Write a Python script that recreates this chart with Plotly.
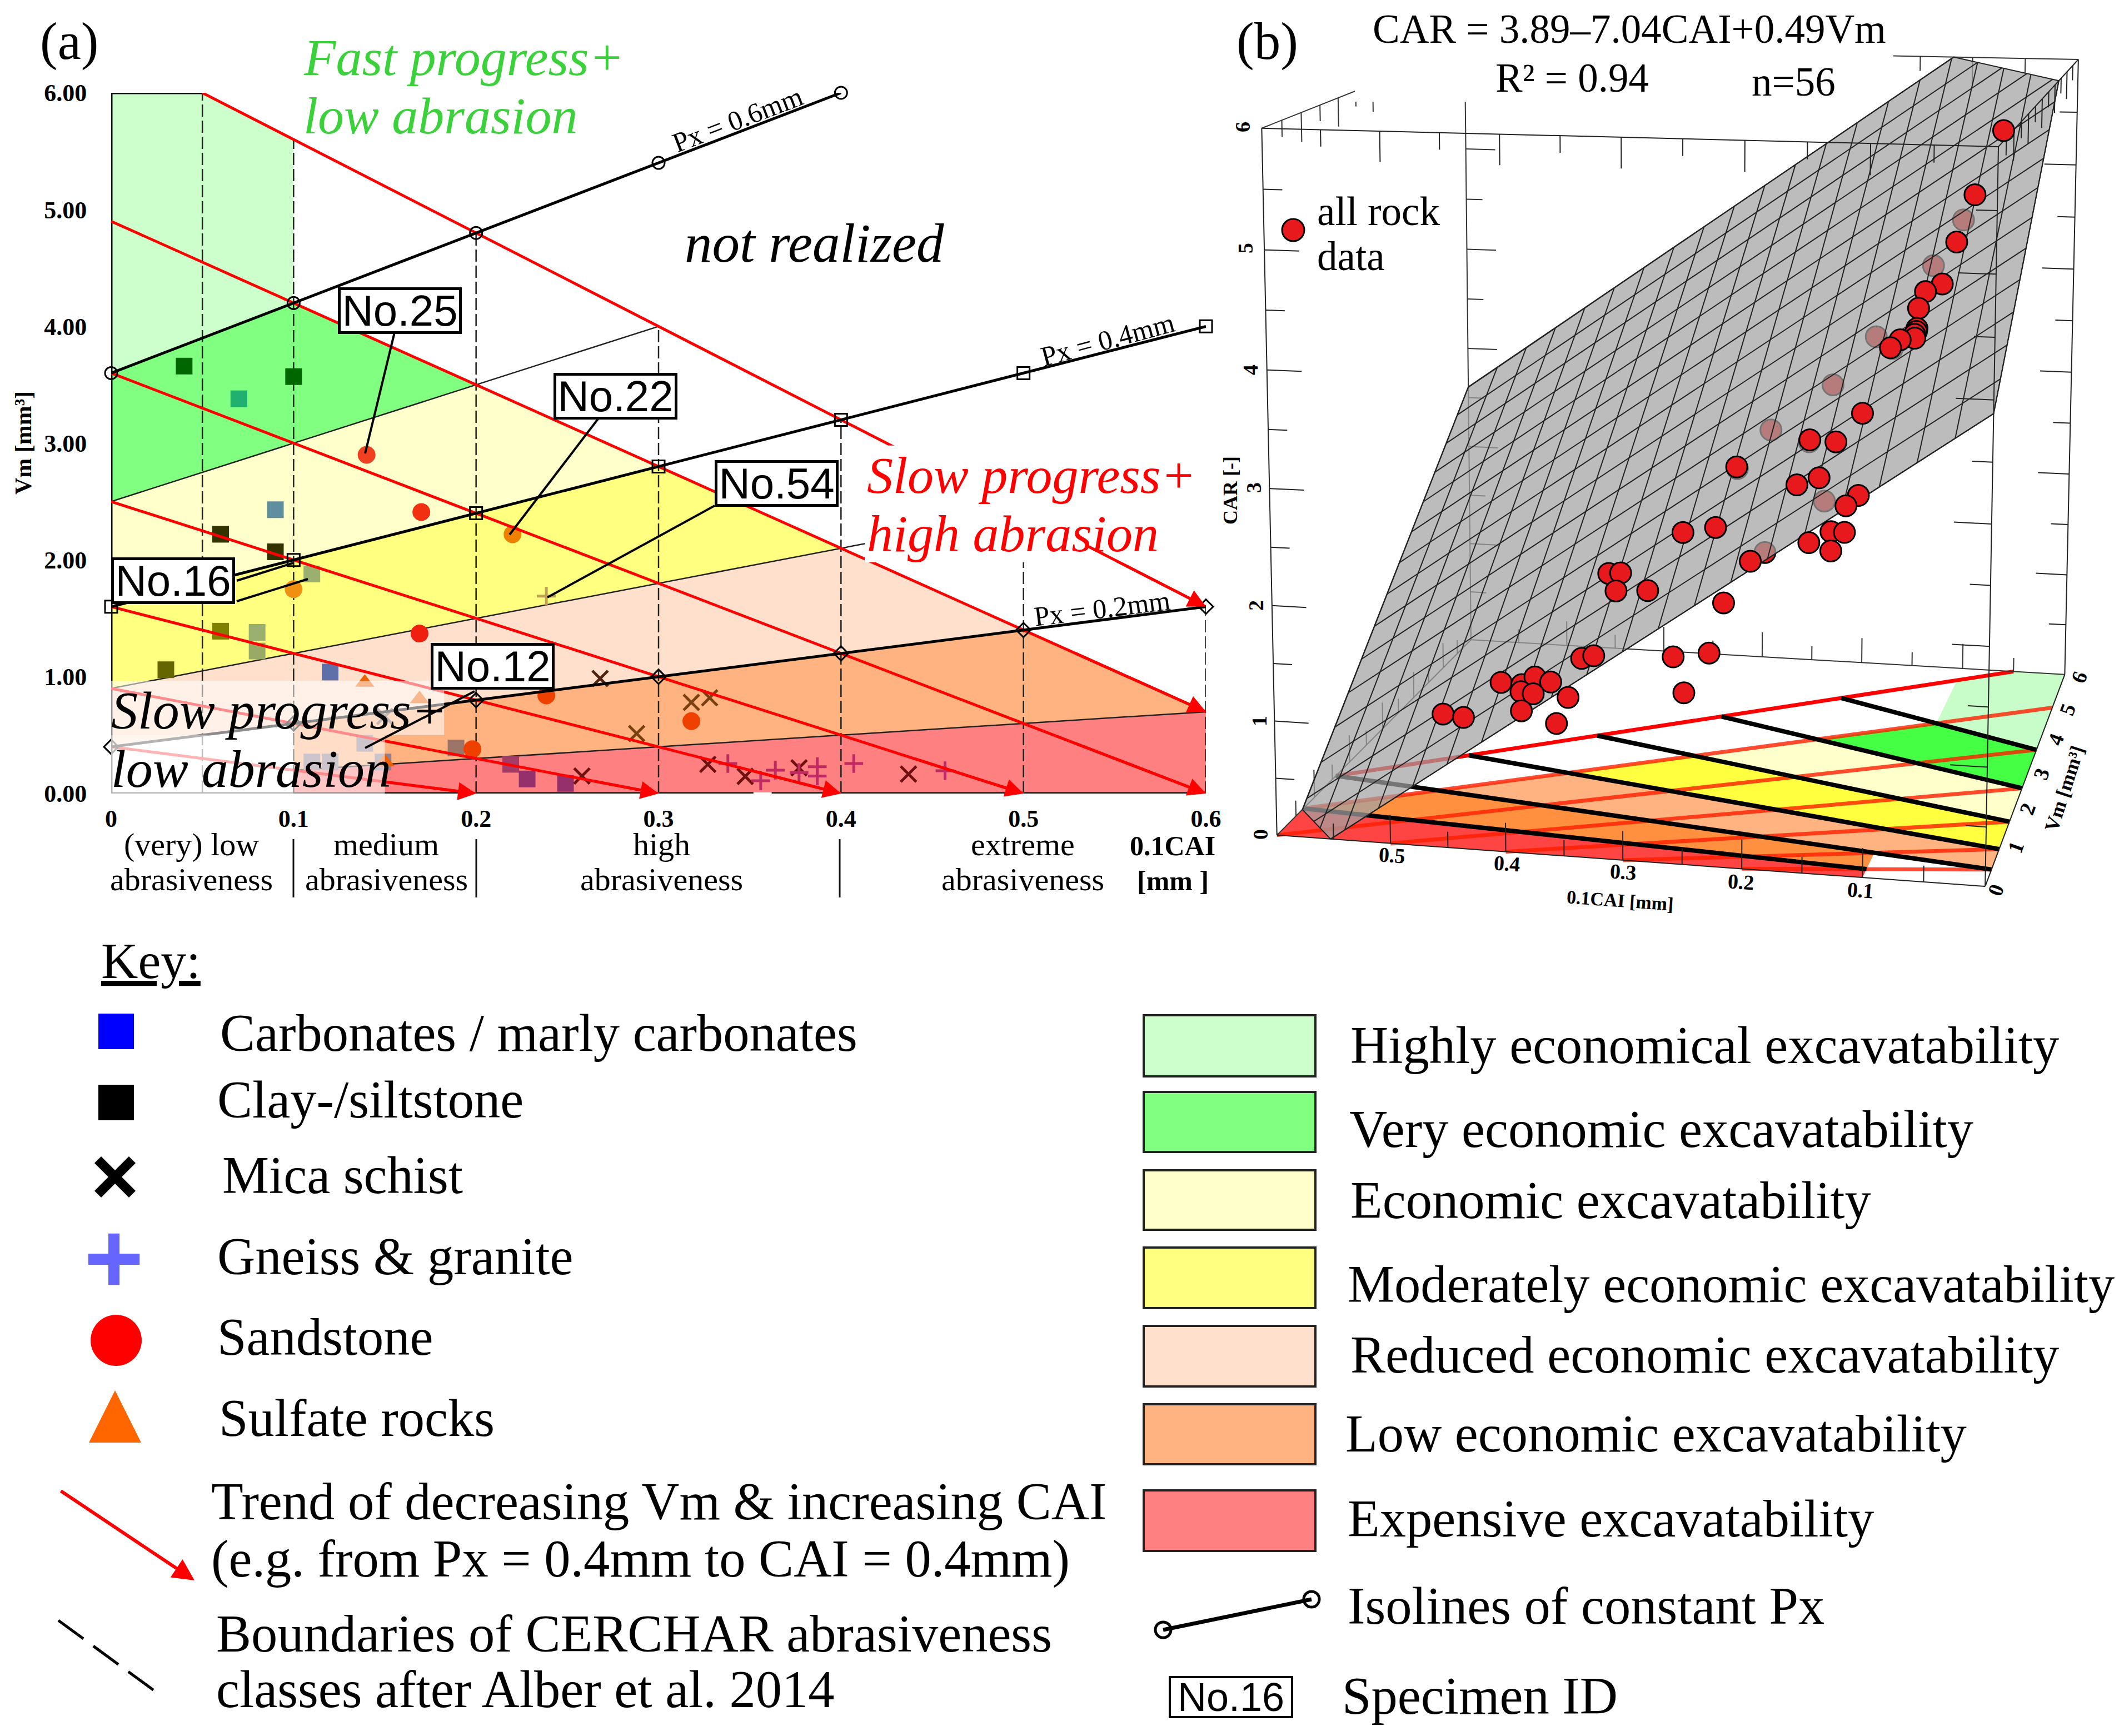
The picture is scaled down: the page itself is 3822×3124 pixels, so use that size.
import numpy as np
import plotly.graph_objects as go

W, H = 3822, 3124
SERIF = "Liberation Serif"
SANS = "Liberation Sans"

# ---------- data ----------
zone_names = ["Highly economical excavatability", "Very economic excavatability", "Economic excavatability",
              "Moderately economic excavatability", "Reduced economic excavatability",
              "Low economic excavatability", "Expensive excavatability"]
zone_cai = [[0, 0, .05, .1, .1], [0, 0, .1, .2], [0, 0, .2, .3], [0, 0, .3, .4], [0, 0, .4, .5],
            [.1, .1, .5, .6], [.1, .1, .6, .6]]
zone_vm = [[3.6, 6, 6, 5.6, 4.2], [2.5, 3.6, 4.2, 3.5], [1.6, 2.5, 3.5, 2.8], [.9, 1.6, 2.8, 2.1], [.4, .9, 2.1, 1.4],
           [.2, .6, 1.4, .7], [0, .2, .7, 0]]
zone_fill = ["#ccffcc", "#80ff80", "#ffffcc", "#ffff80", "#ffe0cc", "#ffb380", "#ff8080"]
floor_fill = ["#c8fcc8", "#44ff44", "#ffffcc", "#ffff40", "#ffb380", "#ff9040", "#ff4444"]

trend_cai0 = [.05, 0, 0, 0, 0, 0, 0]
trend_vm0 = [6, 4.9, 3.6, 2.5, 1.6, .9, .4]
trend_cai1 = [.6, .6, .6, .5, .4, .3, .2]
trend_vm1 = [1.6, .7, 0, 0, 0, 0, 0]

boundary_cai = [.05, .1, .2, .3, .4, .5, .6]
boundary_top = [6, 5.6, 4.8, 4.0, 3.2, 2.4, 1.6]

px6_cai = [0, .1, .2, .3, .4]
px6_vm = [3.6, 4.2, 4.8, 5.4, 6.0]
px4_cai = [0, .1, .2, .3, .4, .5, .6]
px4_vm = [1.6, 2.0, 2.4, 2.8, 3.2, 3.6, 4.0]
px2_cai = [0, .1, .2, .3, .4, .5, .6]
px2_vm = [.4, .6, .8, 1.0, 1.2, 1.4, 1.6]
thin_cai = [[0, .3], [0, .46], [.1, .6]]
thin_vm = [[2.5, 4.0], [.9, 2.28], [.2, .7]]

clay_cai = [.04, .1, .06, .09, .06, .03]
clay_vm = [3.66, 3.57, 2.22, 2.07, 1.39, 1.06]
clay_col = ["#006600", "#006600", "#333300", "#333300", "#808000", "#666600"]
carb_cai = [.07, .09, .11, .08, .08, .12, .139, .11, .12, .149, .189, .219, .228, .249]
carb_vm = [3.38, 2.43, 1.88, 1.38, 1.22, 1.04, .43, .27, .27, .27, .39, .25, .125, .087]
carb_col = ["#20b070", "#5f8f9f", "#99b070", "#99b070", "#99aa66", "#5f70a8", "#8f7f8f", "#8f7f8f", "#8f7f8f", "#8f7f8f",
            "#9c7468", "#a53c66", "#96306c", "#96306c"]
sand_cai = [.14, .17, .22, .1, .169, .2385, .318, .198]
sand_vm = [2.9, 2.41, 2.22, 1.75, 1.37, .84, .62, .38]
sand_col = ["#f04020", "#f03010", "#f08000", "#f09010", "#f02010", "#f04000", "#f04000", "#f04000"]
sulf_cai = [.139, .169, .15]
sulf_vm = [.95, .81, .27]
mica_cai = [.268, .288, .318, .328, .327, .3475, .377, .437, .258, .15]
mica_vm = [.985, .514, .78, .82, .25, .147, .22, .167, .15, .66]
mica_col = ["#502510", "#7a4010", "#7a4010", "#7a4010", "#701010", "#701010", "#701010", "#701010", "#701010", "#806060"]
gneiss_cai = [.2385, .338, .356, .364, .377, .387, .387, .407, .457]
gneiss_vm = [1.69, .257, .11, .2, .18, .23, .15, .257, .195]
gneiss_col = ["#c0a050"] + ["#c02a60"] * 8

plane_coef = [3.89, -7.04, 0.49]
grid_cai = [round(.03 * i, 2) for i in range(21)]
grid_vm = [round(.4 * i, 1) for i in range(16)]

front_cai = [.046, .061, .069, .074, .089, .092, .089, .089, .090, .089, .103, .111, .123, .169, .142, .237, .150, .170, .110, .120, .132, .121, .150, .132,
             .274, .241, .198, .341, .328, .327, .293, .220, .341, .329, .262, .232, .253, .421, .397, .385, .366, .395, .381, .351, .391, .361, .475, .450]
front_vm = [4.09, 3.34, 2.79, 2.29, 2.34, 2.15, 1.87, 1.84, 1.81, 1.75, 1.86, 1.85, 1.16, 1.27, .98, 1.56, .65, .74, .20, .20, .20, .20, .20, .20,
            1.12, .88, .20, 1.23, 1.12, .91, .62, .20, .27, .20, .20, .20, .20, .66, .44, .42, .21, .34, .21, .20, .20, .20, .75, .51]
front_car = [5.57, 5.10, 4.77, 4.49, 4.41, 4.30, 4.18, 4.16, 4.14, 4.12, 4.08, 4.01, 3.59, 3.32, 3.38, 2.99, 3.15, 3.06, 3.13, 3.04, 2.82, 2.82, 2.72, 2.66,
             2.51, 2.63, 2.54, 2.09, 2.13, 2.03, 2.13, 2.18, 1.62, 1.67, 1.70, 1.75, 1.40, 1.25, 1.31, 1.39, 1.42, 1.28, 1.31, 1.30, 1.16, 1.07, .91, .97]
behind_cai = [.067, .087, .128, .109, .160, .212, .169, .236, .139, .186]
behind_vm = [3.06, 2.66, 2.15, 1.82, 1.86, 1.79, 1.24, 1.54, .28, .20]
behind_car = [4.92, 4.58, 4.04, 4.01, 3.67, 3.27, 3.31, 2.98, 3.05, 2.62]

# ---------- camera from box corners ----------
box_corners = [((0,0,0),(1330,1483)),((.6,0,0),(118,1395)),((0,6,0),(1467,1125)),((.6,6,0),(440,1070)),
               ((0,0,6),(1350,245)),((.6,0,6),(82,213)),((0,6,6),(1490,100)),((.6,6,6),(440,80))]
A = []
for (c, v, z), (sx, sy) in box_corners:
    u, w = (2180 + sx * 1642 / 1568) / 1000, (sy * 1680 / 1560) / 1000
    X = [10 * c, v, z, 1]
    A.append(X + [0, 0, 0, 0] + [-u * t for t in X])
    A.append([0, 0, 0, 0] + X + [-w * t for t in X])
P = np.linalg.svd(np.array(A))[2][-1].reshape(3, 4)

def proj(c, v, z):
    X = np.array([10 * c, v, z, 1.0])
    q = P @ X
    return 1000 * q[0] / q[2], 1000 * q[1] / q[2]

# ---------- figure ----------
fig = go.Figure()
TA = dict(xaxis="x", yaxis="y", cliponaxis=False, hoverinfo="skip", showlegend=False)
TB = dict(xaxis="x2", yaxis="y2", cliponaxis=False, hoverinfo="skip", showlegend=False)

# panel a
for cs, vs, col in zip(zone_cai, zone_vm, zone_fill):
    fig.add_trace(go.Scatter(x=cs, y=vs, fill="toself", fillcolor=col, mode="none", **TA))
for c, t in zip(boundary_cai, boundary_top):
    fig.add_trace(go.Scatter(x=[c, c], y=[0, t], mode="lines", line=dict(color="#222", width=2.5, dash="22px,7px"), **TA))
for cs, vs in zip(thin_cai, thin_vm):
    fig.add_trace(go.Scatter(x=cs, y=vs, mode="lines", line=dict(color="#222", width=2.5), **TA))
fig.add_trace(go.Scatter(x=[0, 0, None, 0, .05, None, 0, .6], y=[0, 6, None, 6, 6, None, 0, 0], mode="lines", line=dict(color="#111", width=5), **TA))
fig.add_trace(go.Scatter(x=carb_cai, y=carb_vm, mode="markers", marker=dict(symbol="square", size=30, color=carb_col), **TA))
fig.add_trace(go.Scatter(x=clay_cai, y=clay_vm, mode="markers", marker=dict(symbol="square", size=30, color=clay_col), **TA))
fig.add_trace(go.Scatter(x=sand_cai, y=sand_vm, mode="markers", marker=dict(symbol="circle", size=32, color=sand_col), **TA))
fig.add_trace(go.Scatter(x=sulf_cai, y=sulf_vm, mode="markers", marker=dict(symbol="triangle-up", size=30, color="#f06000"), **TA))
fig.add_trace(go.Scatter(x=mica_cai, y=mica_vm, mode="markers", marker=dict(symbol="x-thin", size=28, line=dict(width=5, color=mica_col)), **TA))
fig.add_trace(go.Scatter(x=gneiss_cai, y=gneiss_vm, mode="markers", marker=dict(symbol="cross-thin", size=24, line=dict(width=5, color=gneiss_col)), **TA))
for c0, v0, c1, v1 in zip(trend_cai0, trend_vm0, trend_cai1, trend_vm1):
    fig.add_trace(go.Scatter(x=[c0, c1], y=[v0, v1], mode="lines", line=dict(color="#ff0000", width=5), **TA))
for cs, vs, sym, sz in [(px6_cai, px6_vm, "circle-open", 22), (px4_cai, px4_vm, "square-open", 22), (px2_cai, px2_vm, "diamond-open", 20)]:
    fig.add_trace(go.Scatter(x=cs, y=vs, mode="lines+markers", line=dict(color="#000", width=5),
                             marker=dict(symbol=sym, size=sz, color="#000", line=dict(width=3, color="#000")), **TA))

# panel b helpers
def segs(pairs):
    xs, ys = [], []
    for p, q in pairs:
        a, b = proj(*p), proj(*q)
        xs += [a[0], b[0], None]
        ys += [a[1], b[1], None]
    return xs, ys

def line3(pairs, color, width, dash=None):
    xs, ys = segs(pairs)
    fig.add_trace(go.Scatter(x=xs, y=ys, mode="lines", line=dict(color=color, width=width, dash=dash), **TB))

for cs, vs, col in zip(zone_cai, zone_vm, floor_fill):
    pts = [proj(c, v, 0) for c, v in zip(cs, vs)]
    fig.add_trace(go.Scatter(x=[p[0] for p in pts], y=[p[1] for p in pts], fill="toself", fillcolor=col, mode="none", **TB))
line3([((c0, v0, 0), (c1, v1, 0)) for c0, v0, c1, v1 in zip(trend_cai0[1:], trend_vm0[1:], trend_cai1[1:], trend_vm1[1:])], "rgba(255,30,0,.8)", 7)
line3([((trend_cai0[0], trend_vm0[0], 0), (trend_cai1[0], trend_vm1[0], 0))], "#ff0000", 7)
floor_black = [((0, 3.6, 0), (.2, 4.8, 0)), ((0, 2.5, 0), (.3, 4.0, 0)), ((0, 1.6, 0), (.4, 3.2, 0)),
               ((0, .9, 0), (.5, 2.4, 0)), ((0, .4, 0), (.6, 1.6, 0)), ((.1, .2, 0), (.6, .7, 0))]
line3(floor_black, "#000", 8)

def ticks(edge, tickdir, n=12):
    out = []
    for i in range(1, n):
        s = np.array(edge[0]) + (np.array(edge[1]) - np.array(edge[0])) * i / n
        k = 1.0 if i % 2 == 0 else .55
        out.append((tuple(s), tuple(s + np.array(tickdir) * k)))
    return out

back_edges = [((.6, 6, 0), (.6, 6, 6)), ((.6, 6, 0), (0, 6, 0)), ((.6, 6, 6), (0, 6, 6)), ((.6, 0, 6), (.6, 6, 6)), ((.6, 0, 0), (.6, 6, 0))]
back_ticks = ticks(back_edges[0], (-.03, 0, 0)) + ticks(back_edges[1], (0, 0, .25)) + ticks(back_edges[2], (0, 0, -.25)) + \
    ticks(back_edges[3], (0, 0, -.25)) + ticks(back_edges[4], (0, 0, .25))
line3(back_edges + back_ticks, "#333", 2)
fig.add_trace(go.Scatter(x=[2438, 3407, 3407, 2438], y=[0, 0, 183, 183], fill="toself", fillcolor="#fff", mode="none", **TB))

def markers3(cs, vs, zs):
    xy = [proj(c, v, z) for c, v, z in zip(cs, vs, zs)]
    fig.add_trace(go.Scatter(x=[a[0] for a in xy], y=[a[1] for a in xy], mode="markers",
                             marker=dict(symbol="circle", size=38, color="#e8191c", line=dict(width=3, color="#000")), **TB))
markers3(behind_cai, behind_vm, behind_car)

a0, b0, k0 = plane_coef
outline = [(.5525, 0, 0), (0, 0, 3.89), (0, 4.31, 6), (.118, 6, 6), (.6, 6, 2.61), (.6, .67, 0), (.5525, 0, 0)]
xy = [proj(*p) for p in outline]
fig.add_trace(go.Scatter(x=[p[0] for p in xy], y=[p[1] for p in xy], fill="toself", fillcolor="rgba(162,162,162,.72)",
                         mode="lines", line=dict(color="#222", width=2), **TB))
glines = []
for c in grid_cai:
    lo = max(0, (-(a0 + b0 * c)) / k0)
    hi = min(6, (6 - a0 - b0 * c) / k0)
    if hi > lo:
        glines.append(((c, lo, a0 + b0 * c + k0 * lo), (c, hi, a0 + b0 * c + k0 * hi)))
for v in grid_vm:
    hi = min(.6, (a0 + k0 * v) / -b0)
    lo = max(0, (6 - a0 - k0 * v) / b0)
    if hi > lo:
        glines.append(((lo, v, a0 + b0 * lo + k0 * v), (hi, v, a0 + b0 * hi + k0 * v)))
line3(glines, "#222", 2)

front_edges = [((0, 0, 0), (.6, 0, 0)), ((.6, 0, 0), (.6, 0, 6)), ((0, 0, 0), (0, 0, 6)), ((0, 6, 0), (0, 6, 6)),
               ((.6, 0, 6), (0, 0, 6)), ((0, 0, 0), (0, 6, 0)), ((0, 0, 6), (0, 6, 6))]
front_ticks = ticks(front_edges[0], (0, 0, .25)) + ticks(front_edges[1], (-.03, 0, 0)) + ticks(front_edges[2], (.03, 0, 0)) + \
    ticks(front_edges[3], (.03, 0, 0)) + ticks(front_edges[4], (0, 0, -.25)) + ticks(front_edges[6], (0, 0, -.25))
line3(front_edges + front_ticks, "#222", 2)
markers3(front_cai, front_vm, front_car)

# key markers
px_x = [209, 209, 207, 205, 209, 207, 2327]
px_y = [1856, 1984, 2118, 2266, 2412, 2552, 414]
fig.add_trace(go.Scatter(x=px_x[:2], y=px_y[:2], mode="markers", marker=dict(symbol="square", size=64, color=["#0000ff", "#000000"]), **TB))
fig.add_trace(go.Scatter(x=[px_x[2]], y=[px_y[2]], mode="markers", marker=dict(symbol="x-thin", size=62, line=dict(width=17, color="#000")), **TB))
fig.add_trace(go.Scatter(x=[px_x[3]], y=[px_y[3]], mode="markers", marker=dict(symbol="cross-thin", size=66, line=dict(width=20, color="#6666ff")), **TB))
fig.add_trace(go.Scatter(x=[px_x[4]], y=[px_y[4]], mode="markers", marker=dict(symbol="circle", size=92, color="#ff0000"), **TB))
fig.add_trace(go.Scatter(x=[207, 254, 160], y=[2502, 2596, 2596], fill="toself", fillcolor="#ff6600", mode="none", **TB))
fig.add_trace(go.Scatter(x=[px_x[6]], y=[px_y[6]], mode="markers", marker=dict(symbol="circle", size=40, color="#e8191c", line=dict(width=3, color="#000")), **TB))
fig.add_trace(go.Scatter(x=[2093, 2360], y=[2933, 2878], mode="lines+markers", line=dict(color="#000", width=7),
                         marker=dict(symbol="circle-open", size=28, color="#000", line=dict(width=5, color="#000")), **TB))
fig.add_trace(go.Scatter(x=[105, 281], y=[2916, 3045], mode="lines", line=dict(color="#000", width=5, dash="56px,22px"), **TB))

# overlays of panel a
shapes = []
def wash(x0, x1, y0, y1, op):
    shapes.append(dict(type="rect", xref="x", yref="y", x0=x0, x1=x1, y0=y0, y1=y1, fillcolor="#fff", opacity=op, line_width=0, layer="above"))
wash(0, .1825, .5, .966, .55)
wash(.1, .15, 0, .5, .55)
wash(0, .1, 0, .5, .7)
wash(.413, .592, 1.98, 2.98, 1)
wash(.352, .362, -.02, .012, 1)

def seg_px(x0, y0, x1, y1, color="#000", width=4):
    shapes.append(dict(type="line", xref="x2", yref="y2", x0=x0, y0=y0, x1=x1, y1=y1, line=dict(color=color, width=width), layer="above"))
for x0, y0, x1, y1 in [(710, 598, 657, 816), (1076, 754, 917, 962), (1286, 910, 985, 1075), (426, 1045, 528, 1013), (426, 1082, 554, 1042), (854, 1244, 657, 1346)]:
    seg_px(x0, y0, x1, y1)
for xv in [528, 857, 1511]:
    seg_px(xv, 1510, xv, 1615, "#111", 3)

swatch_top = [1827, 1965, 2106, 2245, 2386, 2527, 2682]
swatch_bot = [1937, 2073, 2213, 2354, 2495, 2635, 2791]
for t, b, c in zip(swatch_top, swatch_bot, zone_fill):
    shapes.append(dict(type="rect", xref="x2", yref="y2", x0=2058, x1=2367, y0=t, y1=b, fillcolor=c, line=dict(color="#222", width=4), layer="above"))

ann = []
def T(s, x, y, size=94, anchor="left", color="#000", family=SERIF, angle=0, **kw):
    ann.append(dict(text=s, x=x, y=y, xref="x2", yref="y2", xanchor=anchor, yanchor="middle", showarrow=False,
                    font=dict(family=family, size=size, color=color), textangle=angle, **kw))

def arrow(x, y, ax, ay, xref="x", yref="y", size=1.3, width=5):
    ann.append(dict(text="", x=x, y=y, ax=ax, ay=ay, xref=xref, yref=yref, axref=xref, ayref=yref, showarrow=True,
                    arrowhead=2, arrowsize=size, arrowwidth=width, arrowcolor="#ff0000"))
for c0, v0, c1, v1 in zip(trend_cai0, trend_vm0, trend_cai1, trend_vm1):
    arrow(c1, v1, c1 - (c1 - c0) * .12, v1 - (v1 - v0) * .12)
arrow(350, 2844, 108, 2682, "x2", "y2", 1.3, 6)

T("(a)", 124, 74, 95, "center")
T("(b)", 2280, 74, 95, "center")
T("<i>Fast progress+</i>", 544, 103, 94, color="#3bd13b")
T("<i>low abrasion</i>", 544, 208, 94, color="#3bd13b")
T("<i>not realized</i>", 1230, 437, 99)
T("<i>Slow progress+</i>", 1558, 855, 94, color="#ff0000")
T("<i>high abrasion</i>", 1558, 960, 94, color="#ff0000")
T("<i>Slow progress+</i>", 198, 1278, 96)
T("<i>low abrasion</i>", 198, 1383, 96)
T("Px = 0.6mm", 1327, 215, 50, "center", angle=-21)
T("Px = 0.4mm", 1993, 611, 50, "center", angle=-15)
T("Px = 0.2mm", 1983, 1095, 50, "center", angle=-7)
T("<b>Vm [mm³]</b>", 42, 797, 42, "center", angle=-90)
for s, cx, y1 in [("(very) low", 344, 1519), ("abrasiveness", 344, 1582), ("medium", 695, 1519), ("abrasiveness", 695, 1582),
                  ("high", 1190, 1519), ("abrasiveness", 1190, 1582), ("extreme", 1840, 1519), ("abrasiveness", 1840, 1582)]:
    T(s, cx, y1, 58, "center")
T("<b>0.1CAI</b>", 2110, 1522, 50, "center")
T("<b>[mm ]</b>", 2110, 1585, 50, "center")

def box(s, x, y, size=78, bw=5, w=213, h=74):
    T(s, x, y, size, "center", family=SANS, bgcolor="#fff", bordercolor="#000", borderwidth=bw, borderpad=0, width=w, height=h)
box("No.25", 719, 559)
box("No.22", 1107, 713)
box("No.54", 1397, 870)
box("No.16", 311, 1045)
box("No.12", 886, 1199)
box("No.16", 2215, 3054, 72, 4, 216, 68)

T("CAR = 3.89–7.04CAI+0.49Vm", 2932, 52, 73, "center")
T("R² = 0.94", 2829, 140, 73, "center")
T("n=56", 3227, 147, 73, "center")
T("all rock", 2368, 380, 73)
T("data", 2368, 461, 73)
for s, cx, cy in [("0", 2268, 1502), ("1", 2266, 1298), ("2", 2260, 1090), ("3", 2256, 878), ("4", 2250, 666), ("5", 2241, 447), ("6", 2236, 229)]:
    T(f"<b>{s}</b>", cx, cy, 38, "center", angle=-90)
T("<b>CAR [-]</b>", 2214, 883, 36, "center", angle=-90)
for s, cx, cy in [("0.5", 2505, 1539), ("0.4", 2712, 1554), ("0.3", 2921, 1569), ("0.2", 3133, 1587), ("0.1", 3348, 1602)]:
    T(f"<b>{s}</b>", cx, cy, 38, "center", angle=4)
T("<b>0.1CAI [mm]</b>", 2915, 1620, 34, "center", angle=4)
for s, cx, cy in [("0", 3591, 1602), ("1", 3627, 1525), ("2", 3648, 1456), ("3", 3673, 1393), ("4", 3699, 1331), ("5", 3720, 1277), ("6", 3741, 1219)]:
    T(f"<b>{s}</b>", cx, cy, 38, "center", angle=-70)
T("<b>Vm [mm³]</b>", 3715, 1419, 36, "center", angle=-72)

T("<u>Key:</u>", 180, 1729, 92)
for s, x, y in [("Carbonates / marly carbonates", 394, 1859), ("Clay-/siltstone", 389, 1979), ("Mica schist", 398, 2115),
                ("Gneiss & granite", 389, 2261), ("Sandstone", 389, 2406), ("Sulfate rocks", 392, 2552),
                ("Trend of decreasing Vm & increasing CAI", 378, 2702), ("(e.g. from Px = 0.4mm to CAI = 0.4mm)", 378, 2805),
                ("Boundaries of CERCHAR abrasiveness", 387, 2940), ("classes after Alber et al. 2014", 387, 3040)]:
    T(s, x, y, 94.5)
for s, x, y in zip(zone_names + ["Isolines of constant Px", "Specimen ID"],
                   [2428, 2426, 2428, 2423, 2428, 2419, 2423, 2423, 2413],
                   [1881, 2032, 2160, 2311, 2438, 2580, 2733, 2890, 3052]):
    T(s, x, y, 94.5)

fig.update_layout(
    width=W, height=H, autosize=False, margin=dict(l=0, r=0, t=0, b=0, pad=0, autoexpand=False), paper_bgcolor="#fff", plot_bgcolor="rgba(0,0,0,0)",
    showlegend=False, shapes=shapes, annotations=ann,
    xaxis=dict(domain=[200 / W, 2170 / W], range=[0, .6], tickvals=[0, .1, .2, .3, .4, .5, .6], ticktext=["0", "0.1", "0.2", "0.3", "0.4", "0.5", "0.6"],
               ticks="outside", ticklen=6, tickcolor="rgba(0,0,0,0)", showgrid=False, zeroline=False, showline=False, automargin=False,
               tickfont=dict(family=SERIF, size=44, color="#000", weight="bold"), tickangle=0),
    yaxis=dict(domain=[1 - 1428 / H, 1 - 167 / H], range=[0, 6], tickvals=[0, 1, 2, 3, 4, 5, 6], ticktext=["0.00", "1.00", "2.00", "3.00", "4.00", "5.00", "6.00"],
               ticks="outside", ticklen=34, tickcolor="rgba(0,0,0,0)", showgrid=False, zeroline=False, showline=False, automargin=False,
               tickfont=dict(family=SERIF, size=44, color="#000", weight="bold")),
    xaxis2=dict(domain=[0, 1], range=[0, W], visible=False, anchor="y2", automargin=False),
    yaxis2=dict(domain=[0, 1], range=[H, 0], visible=False, anchor="x2", automargin=False),
)
fig.write_html("out.html", config=dict(displayModeBar=False), post_script="document.body.style.margin='0';")
